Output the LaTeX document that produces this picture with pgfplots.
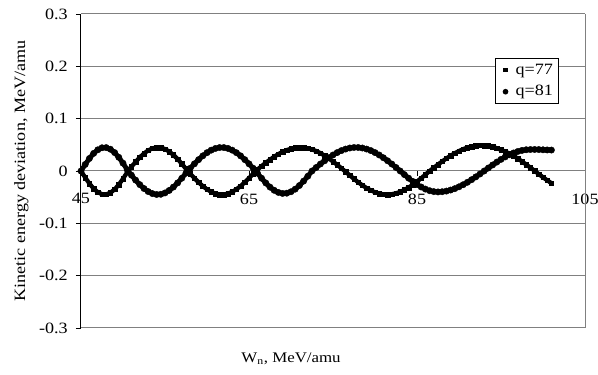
\documentclass[border=0pt]{standalone}
\usepackage{fontspec}
\setmainfont{Liberation Serif}[FakeStretch=1.15]
\usepackage{pgfplots}
\pgfplotsset{compat=1.18}
\usepackage{pgfplotstable}
\definecolor{gridgray}{gray}{0.5}
\pgfplotstableread{
x y
45 0
45.5 -0.0125
46 -0.0239
46.5 -0.0336
47 -0.0405
47.5 -0.0444
48 -0.0447
48.5 -0.0416
49 -0.0352
49.5 -0.0261
50 -0.0149
50.5 -0.0025
51 0.0079
51.5 0.0174
52 0.0261
52.5 0.0335
53 0.0393
53.5 0.0432
54 0.0449
54.5 0.0445
55 0.0419
55.5 0.0372
56 0.0307
56.5 0.0228
57 0.0138
57.5 0.0040
58 -0.0052
58.5 -0.0137
59 -0.0217
59.5 -0.0289
60 -0.0350
60.5 -0.0398
61 -0.0431
61.5 -0.0448
62 -0.0448
62.5 -0.0431
63 -0.0398
63.5 -0.0350
64 -0.0289
64.5 -0.0217
65 -0.0137
65.5 -0.0052
66 0.0027
66.5 0.0093
67 0.0157
67.5 0.0217
68 0.0273
68.5 0.0323
69 0.0366
69.5 0.0400
70 0.0426
70.5 0.0443
71 0.0450
71.5 0.0447
72 0.0434
72.5 0.0412
73 0.0381
73.5 0.0341
74 0.0294
74.5 0.0240
75 0.0181
75.5 0.0119
76 0.0053
76.5 -0.0014
77 -0.0083
77.5 -0.0151
78 -0.0215
78.5 -0.0274
79 -0.0326
79.5 -0.0370
80 -0.0405
80.5 -0.0431
81 -0.0446
81.5 -0.0450
82 -0.0443
82.5 -0.0426
83 -0.0399
83.5 -0.0362
84 -0.0316
84.5 -0.0262
85 -0.0202
85.5 -0.0138
86 -0.0070
86.5 0.0000
87 0.0062
87.5 0.0124
88 0.0183
88.5 0.0240
89 0.0292
89.5 0.0340
90 0.0382
90.5 0.0418
91 0.0447
91.5 0.0469
92 0.0483
92.5 0.0490
93 0.0488
93.5 0.0479
94 0.0461
94.5 0.0436
95 0.0405
95.5 0.0370
96 0.0335
96.5 0.0290
97 0.0238
97.5 0.0182
98 0.0124
98.5 0.0064
99 0.0005
99.5 -0.0060
100 -0.0120
100.5 -0.0178
101 -0.0232
}\qseven
\pgfplotstableread{
x y
45 0
45.5 0.0125
46 0.0239
46.5 0.0336
47 0.0405
47.5 0.0444
48 0.0447
48.5 0.0416
49 0.0352
49.5 0.0261
50 0.0149
50.5 0.0025
51 -0.0079
51.5 -0.0174
52 -0.0261
52.5 -0.0335
53 -0.0393
53.5 -0.0432
54 -0.0449
54.5 -0.0445
55 -0.0419
55.5 -0.0372
56 -0.0307
56.5 -0.0228
57 -0.0138
57.5 -0.0040
58 0.0052
58.5 0.0137
59 0.0217
59.5 0.0289
60 0.0350
60.5 0.0398
61 0.0431
61.5 0.0448
62 0.0448
62.5 0.0431
63 0.0398
63.5 0.0350
64 0.0289
64.5 0.0217
65 0.0137
65.5 0.0052
66 -0.0040
66.5 -0.0139
67 -0.0229
67.5 -0.0308
68 -0.0369
68.5 -0.0410
69 -0.0429
69.5 -0.0424
70 -0.0396
70.5 -0.0347
71 -0.0278
71.5 -0.0194
72 -0.0100
72.5 0.0000
73 0.0067
73.5 0.0133
74 0.0195
74.5 0.0253
75 0.0306
75.5 0.0352
76 0.0390
76.5 0.0419
77 0.0439
77.5 0.0449
78 0.0449
78.5 0.0439
79 0.0419
79.5 0.0390
80 0.0352
80.5 0.0306
81 0.0253
81.5 0.0195
82 0.0133
82.5 0.0067
83 0.0000
83.5 -0.0069
84 -0.0137
84.5 -0.0200
85 -0.0257
85.5 -0.0306
86 -0.0346
86.5 -0.0376
87 -0.0394
87.5 -0.0400
88 -0.0396
88.5 -0.0384
89 -0.0364
89.5 -0.0337
90 -0.0302
90.5 -0.0262
91 -0.0216
91.5 -0.0166
92 -0.0113
92.5 -0.0057
93 0.0000
93.5 0.0058
94 0.0115
94.5 0.0170
95 0.0222
95.5 0.0269
96 0.0310
96.5 0.0345
97 0.0373
97.5 0.0393
98 0.0406
98.5 0.0410
99 0.0411
99.5 0.0410
100 0.0405
100.5 0.0402
101 0.0400
}\qeight
\begin{document}
\begin{tikzpicture}
\begin{axis}[
  name=ax,
  scale only axis, width=378pt, height=235.5pt,
  xmin=45, xmax=105, ymin=-0.3, ymax=0.3,
  axis x line=middle, axis y line=left,
  hide obscured x ticks=false,
  axis line style={-},
  x axis line style={gridgray, line width=0.75pt},
  y axis line style={black, line width=0.75pt},
  xtick={45,65,85,105}, xticklabels={45,65,85,105},
  ytick={-0.3,-0.2,-0.1,0,0.1,0.2,0.3},
  yticklabels={-0.3,-0.2,-0.1,0,0.1,0.2,0.3},
  ymajorgrids, grid style={gridgray, line width=0.75pt},
  tick style={black, line width=0.6pt},
  major tick length=3.75pt,
  tick align=outside,
  ticklabel style={font=\fontsize{11.8}{13}\selectfont},
  yticklabel style={inner sep=0pt, anchor=east, xshift=-6pt},
  xticklabel style={inner sep=0pt, anchor=north, yshift=-13pt},
  every axis x label/.style={at={(rel axis cs:0.4167,-0.1105)}, anchor=base, font=\fontsize{11}{13}\selectfont},
  every axis y label/.style={at={(rel axis cs:-0.1111,0.5)}, anchor=base, rotate=90, font=\fontsize{11.8}{13}\selectfont},
  xlabel={W\textsubscript{n}, MeV/amu},
  ylabel={Kinetic energy deviation, MeV/amu},
  legend style={at={(rel axis cs:0.8214,0.8599)}, anchor=north west, draw=black, fill=white, line width=0.8pt,
    font=\fontsize{11.8}{13}\selectfont, inner xsep=4.5pt, inner ysep=4pt, row sep=7pt, column sep=0pt,
    nodes={inner sep=0pt}, cells={anchor=west}},
  clip=false,
]
\addplot[black, line width=3.2pt, mark=square*, mark size=1.7pt, mark options={line width=0.3pt}, forget plot] table[x=x,y=y]{\qseven};
\addplot[black, line width=3.6pt, mark=*, mark size=2.4pt, mark options={line width=0.3pt}, forget plot] table[x=x,y=y]{\qeight};
\draw[gridgray, line width=0.75pt] (rel axis cs:1,0) -- (rel axis cs:1,1);
\addlegendimage{legend image code/.code={\path[draw=none,fill=none] (-3pt,0pt) -- (7.5pt,0pt); \fill[black] (-1.2pt,-1.2pt) rectangle (1.2pt,1.2pt);}}
\addlegendentry{q=77}
\addlegendimage{legend image code/.code={\path[draw=none,fill=none] (-3pt,0pt) -- (7.5pt,0pt); \fill[black] (0pt,0pt) circle (1.7pt);}}
\addlegendentry{q=81}
\end{axis}
\pgfresetboundingbox
\path ([shift={(-60.75pt,-35.25pt)}]ax.south west) rectangle ([shift={(9.75pt,10.5pt)}]ax.north east);
\end{tikzpicture}
\end{document}
